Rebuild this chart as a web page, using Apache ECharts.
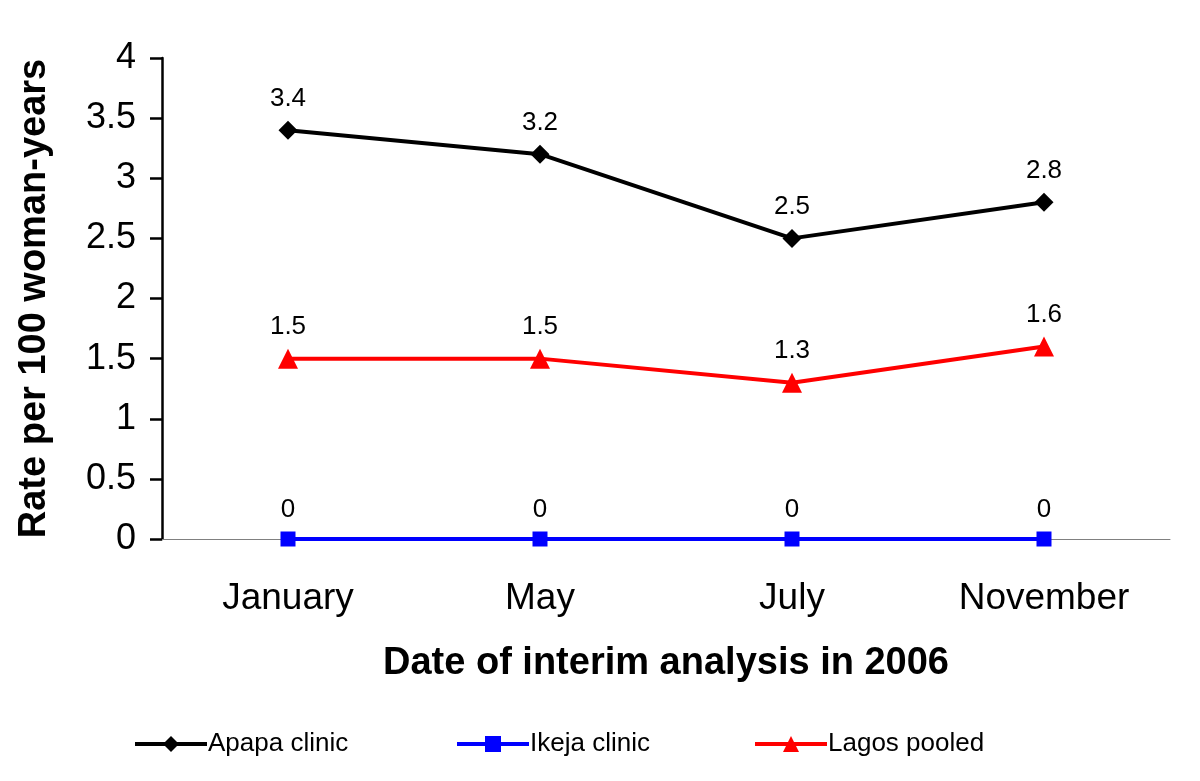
<!DOCTYPE html>
<html><head><meta charset="utf-8">
<script src="https://cdn.jsdelivr.net/npm/echarts@6/dist/echarts.min.js"></script>
<style>html,body{margin:0;padding:0;background:#fff}#c{width:1200px;height:781px}</style>
</head><body><div id="c"></div>
<script>
const categories = ['January', 'May', 'July', 'November'];
const apapa = [3.4, 3.2, 2.5, 2.8];
const ikeja = [0, 0, 0, 0];
const lagos = [1.5, 1.5, 1.3, 1.6];
const seriesNames = ['Apapa clinic', 'Ikeja clinic', 'Lagos pooled'];
const FONT = 'Liberation Sans, Arial, sans-serif';

const chart = echarts.init(document.getElementById('c'));
function mk(name, data, color, symbol, size) {
  return {
    name, type: 'line', data, symbol, symbolSize: size,
    lineStyle: { color, width: 4 }, itemStyle: { color },
    label: { show: true, position: 'top', distance: 9, color: '#000', fontSize: 26, fontFamily: FONT },
    z: name === 'Ikeja clinic' ? 3 : 2
  };
}
function leg(name, left) {
  return { data: [name], left, top: 726, itemWidth: 72, itemHeight: 20, itemGap: 0,
    lineStyle: { width: 4 },
    textStyle: { fontSize: 26, fontFamily: FONT, color: '#000', padding: [0,0,0,-4] } };
}
chart.setOption({
  animation: false,
  backgroundColor: '#fff',
  grid: { left: 162, right: 30, top: 58, bottom: 242 },
  xAxis: {
    type: 'category', data: categories, boundaryGap: true,
    axisLine: { lineStyle: { color: '#808080', width: 1 } },
    axisTick: { show: false },
    axisLabel: { color: '#000', fontSize: 37, fontFamily: FONT, margin: 41 },
    name: 'Date of interim analysis in 2006', nameLocation: 'middle', nameGap: 106,
    nameTextStyle: { color: '#000', fontSize: 38, fontWeight: 'bold', fontFamily: FONT }
  },
  yAxis: {
    type: 'value', min: 0, max: 4, interval: 0.5,
    axisLine: { show: true, lineStyle: { color: '#000', width: 2.5 } },
    axisTick: { show: true, length: 12, lineStyle: { color: '#000', width: 2.5 } },
    splitLine: { show: false },
    axisLabel: { color: '#000', fontSize: 36, fontFamily: FONT, margin: 26 },
    name: 'Rate per 100 woman-years', nameLocation: 'middle', nameGap: 108,
    nameTextStyle: { color: '#000', fontSize: 38, fontWeight: 'bold', fontFamily: FONT }
  },
  legend: [leg(seriesNames[0], 128), leg(seriesNames[1], 450), leg(seriesNames[2], 748)],
  series: [
    mk(seriesNames[0], apapa, '#000000', 'diamond', 19),
    mk(seriesNames[1], ikeja, '#0000ff', 'rect', 15),
    mk(seriesNames[2], lagos, '#ff0000', 'triangle', 20)
  ]
});
</script></body></html>
